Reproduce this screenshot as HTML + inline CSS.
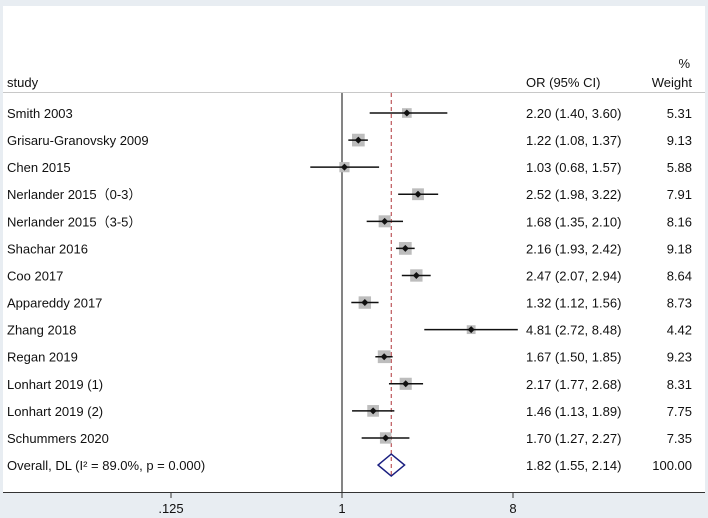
<!DOCTYPE html>
<html><head><meta charset="utf-8"><style>
body{margin:0;background:#e8edf2;}
svg{display:block;font-family:"Liberation Sans",Arial,sans-serif;}
</style></head><body>
<svg width="708" height="518" viewBox="0 0 708 518">
<rect x="0" y="0" width="708" height="518" fill="#e8edf2"/>
<rect x="3" y="6" width="702" height="486" fill="#ffffff"/>
<line x1="3" y1="92.5" x2="705" y2="92.5" stroke="#c8c8c8" stroke-width="1"/>
<text x="690" y="68" font-size="13" text-anchor="end" fill="#111">%</text>
<text x="7" y="87" font-size="13" fill="#111">study</text>
<text x="526" y="87" font-size="13" fill="#111">OR (95% CI)</text>
<text x="692" y="87" font-size="13" text-anchor="end" fill="#111">Weight</text>
<g id="rows"></g>
<line x1="3" y1="492.5" x2="705" y2="492.5" stroke="#333" stroke-width="1"/>
<g id="axis"></g>
</svg>
<script>
const studies=["Smith 2003","Grisaru-Granovsky 2009","Chen 2015","Nerlander 2015（0-3）","Nerlander 2015（3-5）","Shachar 2016","Coo 2017","Appareddy 2017","Zhang 2018","Regan 2019","Lonhart 2019 (1)","Lonhart 2019 (2)","Schummers 2020"];
const orVals=[2.20,1.22,1.03,2.52,1.68,2.16,2.47,1.32,4.81,1.67,2.17,1.46,1.70];
const lowVals=[1.40,1.08,0.68,1.98,1.35,1.93,2.07,1.12,2.72,1.50,1.77,1.13,1.27];
const highVals=[3.60,1.37,1.57,3.22,2.10,2.42,2.94,1.56,8.48,1.85,2.68,1.89,2.27];
const weights=[5.31,9.13,5.88,7.91,8.16,9.18,8.64,8.73,4.42,9.23,8.31,7.75,7.35];
const overall=[1.82,1.55,2.14];
const overallLabel="Overall, DL (I² = 89.0%, p = 0.000)";
const tickVals=[0.125,1,8];
const tickLabels=[".125","1","8"];
const NS="http://www.w3.org/2000/svg";
const xs=v=>342+57*Math.log2(v);
const ys=i=>113+27.08*i;
const fmt=v=>v.toFixed(2);
function mk(tag,attrs,parent,text){const e=document.createElementNS(NS,tag);for(const k in attrs)e.setAttribute(k,attrs[k]);if(text!=null)e.textContent=text;parent.appendChild(e);return e;}
const rows=document.getElementById('rows');
const overallY=ys(studies.length);
// null line
let nl=mk('line',{x1:342,y1:93,x2:342,y2:492,stroke:'#333','stroke-width':1.2},rows);


let ol=mk('line',{x1:xs(overall[0]),y1:93,x2:xs(overall[0]),y2:overallY+13,stroke:'#b0353a','stroke-width':1,'stroke-dasharray':'4,3'},rows);


studies.forEach((s,i)=>{
 const y=ys(i);
 let t=mk('text',{x:7,y:y+5,'font-size':13,fill:'#111'},rows,s);
 
 
 const sz=Math.sqrt(weights[i])*4.2;
 let b=mk('rect',{x:xs(orVals[i])-sz/2,y:y-sz/2,width:sz,height:sz,fill:'#bdbdbd'},rows);
 
 
 let l=mk('line',{x1:xs(lowVals[i]),y1:y,x2:xs(highVals[i]),y2:y,stroke:'#111','stroke-width':1.5},rows);
 
 
 const cx=xs(orVals[i]);
 let d=mk('polygon',{points:`${cx-3.5},${y} ${cx},${y-3.5} ${cx+3.5},${y} ${cx},${y+3.5}`,fill:'#111'},rows);
 
 
 let o=mk('text',{x:526,y:y+5,'font-size':13,fill:'#111'},rows,`${fmt(orVals[i])} (${fmt(lowVals[i])}, ${fmt(highVals[i])})`);
 
 
 let w=mk('text',{x:692,y:y+5,'font-size':13,'text-anchor':'end',fill:'#111'},rows,fmt(weights[i]));
 
 
});
let otx=mk('text',{x:7,y:overallY+5,'font-size':13,fill:'#111'},rows,overallLabel);


const ocx=xs(overall[0]),ol1=xs(overall[1]),oh1=xs(overall[2]);
let dia=mk('polygon',{points:`${ol1},${overallY} ${ocx},${overallY-11} ${oh1},${overallY} ${ocx},${overallY+11}`,fill:'none',stroke:'#1a1f80','stroke-width':1.5},rows);


let ov=mk('text',{x:526,y:overallY+5,'font-size':13,fill:'#111'},rows,`${fmt(overall[0])} (${fmt(overall[1])}, ${fmt(overall[2])})`);


let ow=mk('text',{x:692,y:overallY+5,'font-size':13,'text-anchor':'end',fill:'#111'},rows,"100.00");


const ax=document.getElementById('axis');
tickVals.forEach((v,i)=>{
 let tk=mk('line',{x1:xs(v),y1:492,x2:xs(v),y2:498,stroke:'#333','stroke-width':1},ax);
 
 
 let tl=mk('text',{x:xs(v),y:513,'font-size':13,'text-anchor':'middle',fill:'#111'},ax,tickLabels[i]);
 
 
});
</script>
</body></html>
